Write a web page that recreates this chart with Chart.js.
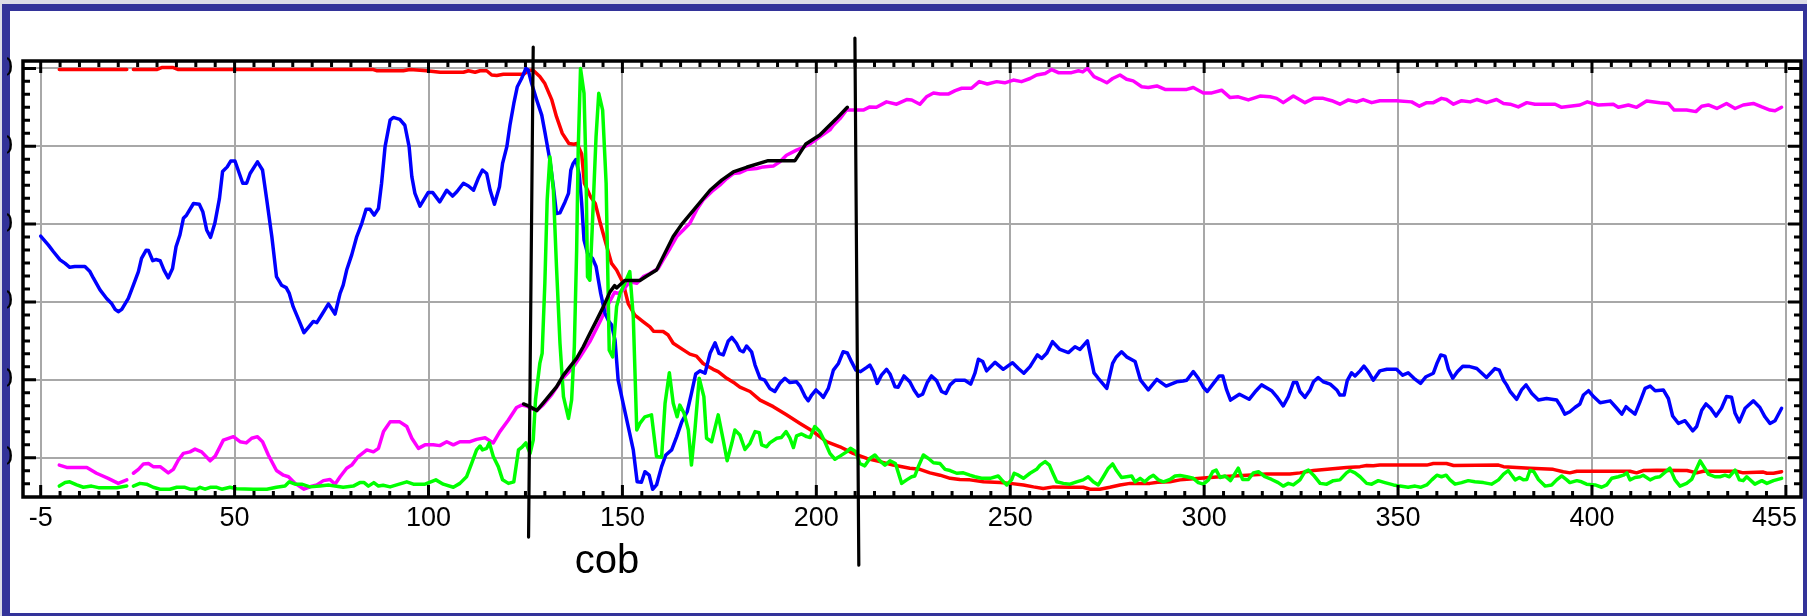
<!DOCTYPE html>
<html>
<head>
<meta charset="utf-8">
<script src="https://cdn.jsdelivr.net/npm/chart.js@4.4.1/dist/chart.umd.min.js"></script>
<style>
html,body{margin:0;padding:0;background:#fff;overflow:hidden;}
#wrap{position:relative;width:1807px;height:616px;background:#fff;}
#stripTop{position:absolute;left:0;top:0;width:1807px;height:4px;background:#dcdce6;}
#stripLeft{position:absolute;left:0;top:0;width:2px;height:616px;background:#dcdce6;}
#border{position:absolute;left:2px;top:4px;width:1805px;height:612px;box-sizing:border-box;border-style:solid;border-color:#333399;border-width:7px 4px 3px 8px;}
#c{position:absolute;left:0;top:0;}
</style>
</head>
<body>
<div id="wrap">
<div id="stripTop"></div><div id="stripLeft"></div><div id="border"></div>
<canvas id="c" width="1807" height="616"></canvas>
</div>
<script>
// ---- tick labels ----
const xTickValues = [0, 50, 100, 150, 200, 250, 300, 350, 400, 450];
const xTickLabels = ['-5', '50', '100', '150', '200', '250', '300', '350', '400', '455'];
const yTickValues = [0, 20, 40, 60, 80, 100];
const yTickLabels = ['0', '20', '40', '60', '80', '100'];
const xMinorStep = 5;
const yMinorStep = 20 / 6;
const xTitle = 'cob';
const xTitleAt = 146;

// ---- marker lines (x, y pairs in data units) ----
const cobLine1 = [[127.0, 105.5], [125.8, -20.4]];
const cobLine2 = [[209.95, 107.8], [210.96, -27.6]];

// ---- series [x, y]; null y = gap ----
const redSeries = [[4.8,99.7],[22.2,99.7],[23.05,null],[23.9,99.7],[29.9,99.7],[31.2,100.2],[34.2,100.2],[35.5,99.7],[85.8,99.7],[86.6,99.4],[93.5,99.4],[95.2,99.7],[97,99.6],[99.5,99.4],[103,99],[109,99],[110.3,99.4],[112,99],[113.3,99.4],[115,99.4],[116.3,98.3],[117.6,98.2],[119.3,98.5],[124.5,98.5],[125.7,99.4],[126.9,99.6],[128.7,97.9],[130,96.1],[131.8,91.9],[133,87.6],[134.5,83.3],[136.2,80.7],[137.5,80.5],[138.3,80.7],[139.5,78],[140.2,70.5],[141.8,67],[143,65.3],[144.3,60.2],[145.5,55.9],[147.2,49.9],[148.5,48.2],[150.2,44.8],[151.5,39.6],[153.2,36.6],[155.4,34.9],[157.1,33.6],[158,32.5],[160.5,32.4],[161.8,31.5],[163.1,29.4],[165.7,27.7],[167.4,26.6],[169.1,26.1],[170.8,24.2],[173.4,22.7],[174.7,22.1],[176.9,20.4],[179,19.1],[180.3,18.1],[182.9,17],[185.5,14.8],[188.9,13.1],[192.3,11],[195.8,8.8],[199.2,6.7],[202.6,4.1],[206.1,2.8],[209.5,1.1],[213,-0.2],[216.4,-1],[219.8,-1.9],[224.1,-2.7],[226.7,-3],[229.3,-3.9],[231.9,-4.5],[234.5,-5.3],[237,-5.6],[239.6,-5.7],[243.1,-6.2],[247.4,-6.4],[250,-6.6],[253.4,-7],[256,-7.5],[258.5,-7.9],[261.1,-7.5],[265.4,-7.6],[268.8,-7.6],[270.6,-8.1],[273.1,-8.1],[275.7,-7.6],[278.3,-7],[280.9,-6.6],[286,-6.6],[288,-6.3],[291.2,-6.2],[293.8,-5.7],[299,-5.3],[304.1,-4.9],[311,-4.5],[316.1,-4.2],[322.1,-4.2],[324.7,-3.9],[328.2,-3.3],[336.7,-2.5],[340.2,-2.3],[341.9,-2],[343.6,-2.1],[345.3,-1.9],[357.4,-1.9],[359.1,-1.5],[362.5,-1.5],[364.3,-2],[375.9,-1.9],[377.2,-2.3],[384,-2.7],[390,-3],[392.6,-3.6],[394.3,-3.9],[396.1,-3.5],[409.8,-3.5],[411.5,-3.9],[413.2,-3.3],[416.7,-3.2],[424.5,-3.3],[427,-3.9],[428.7,-3.5],[437.3,-3.5],[439,-3.9],[444.2,-3.7],[445.1,-4],[446.8,-4],[448.9,-3.6]];

const blueSeries = [[0,56.9],[2,54.6],[3.3,52.9],[5,50.8],[6.3,49.9],[7.5,48.9],[8.8,49.1],[11.4,49.1],[12.7,47.8],[13.6,46.1],[15.3,43.1],[17,40.9],[18.3,39.6],[19.2,38.1],[20,37.5],[20.9,38.1],[22.6,40.9],[23.9,44.3],[25.2,47.8],[26,51.2],[27.2,53.3],[27.8,53.2],[28.9,50.6],[29.7,50.9],[30.8,50.6],[31.8,48.2],[32.9,46.2],[34,48.6],[34.9,54.2],[35.9,57.2],[36.8,61.5],[37.6,62.3],[39.4,65.3],[40.9,65.1],[41.8,63.2],[42.8,58.5],[43.8,56.6],[44.9,60.2],[46.1,66.6],[46.9,73.5],[48.1,74.7],[49,76.2],[50.1,76.2],[52.1,70.5],[53.1,70.5],[54,73],[55.9,76],[57.2,73.9],[58.3,66.2],[59.6,56.8],[60.8,46.5],[62.1,44.3],[63.3,43.7],[64.1,42.2],[65.1,38.8],[66.7,35],[67.9,32.1],[69.3,33.8],[70.3,35],[71.2,34.7],[72.4,36.6],[74.2,39.5],[75.9,36.9],[77.2,42.2],[78,44.3],[78.9,48.2],[80.2,52.1],[81.5,56.8],[82.8,60.2],[83.9,63.8],[84.9,63.8],[86,62.3],[87.1,64],[87.9,70.5],[88.8,79.9],[90.1,86.7],[90.9,87.4],[92.6,86.9],[93.9,85.4],[95,79.9],[95.7,72.2],[96.5,67.9],[97.8,64.6],[99.9,68.1],[101.1,68.1],[102.9,65.7],[104.7,68.7],[106.2,67.2],[107.3,68.3],[109,70.5],[110.3,69.8],[111.6,68.7],[112.8,71.7],[113.9,73.9],[115,73],[115.9,68.7],[117,65.1],[118.3,69.6],[119.1,75.6],[120.2,79.9],[121,85.4],[122,91],[122.9,95.3],[124,97.4],[125.1,100],[125.7,99.6],[126.6,96.1],[127.9,91.9],[129.2,88],[130,83.7],[131.3,76.4],[132.2,69.6],[133,62.7],[133.9,62.9],[135.2,65.7],[136.1,67.9],[136.7,73.9],[137.3,75.6],[138,76.6],[138.9,72.6],[139.5,65.3],[140.1,55.9],[141,52.5],[142.3,51.2],[143.2,49.1],[144.4,42.2],[145.5,37.1],[146.5,35],[147.2,34.1],[148.1,30.2],[148.9,19.9],[150.2,13.9],[151.5,8],[152.8,2],[153.8,-6.2],[154.9,-6.3],[155.8,-3.6],[156.9,-4.5],[157.8,-8.1],[158.8,-7],[160.1,-2.3],[161.2,0.7],[162.7,2],[164,5.4],[165.3,9.2],[166.7,11.8],[167.8,16.5],[168.9,21.5],[170,22.3],[171.3,21.7],[172.6,26.8],[173.9,29.5],[174.9,26.8],[176,26.4],[177.3,30],[178.2,30.9],[179.4,29.4],[180.3,27.6],[181.2,27.2],[182,28.7],[183.3,27.2],[184.2,23.8],[185.5,20.4],[186.7,19.9],[188,17.8],[189.3,17],[190.6,19.1],[191.9,20.4],[193.2,19.3],[194.9,19.5],[195.8,18.4],[197.1,15.7],[197.9,14.6],[198.8,16.1],[199.9,17.4],[200.9,16.5],[201.8,15.5],[203.1,17.8],[204.4,22.5],[205.7,24.2],[206.9,27.2],[208,26.9],[209.1,24.6],[210.2,22.5],[211.4,22.1],[213,23.2],[213.8,23.8],[214.7,22.1],[215.7,19.1],[216.8,21.2],[218.1,22.7],[219,21.5],[220.3,18.2],[221.1,18.1],[222.6,21],[224.1,19.5],[225.2,17.4],[226.3,15.8],[227.4,16.3],[228.6,19.3],[229.7,21],[231,19.8],[232.3,17],[233.4,16.5],[234.5,18.7],[235.8,19.9],[238.3,19.9],[239.8,18.9],[240.9,21.7],[241.8,25.3],[242.9,24.7],[243.9,22.3],[246.1,24.5],[248.2,22.7],[250.6,24.4],[252.1,22.9],[253.5,21.7],[255.1,23.4],[257,26.4],[258.1,25.5],[259.4,26.8],[260.9,29.8],[262.8,27.8],[265,27],[266.7,28.5],[268,27.8],[269.9,30],[271.6,21.8],[272.7,20.4],[274.9,17.8],[276.4,24.2],[277.3,25.8],[278.7,27.2],[280,25.9],[282.2,24.7],[283.6,19.9],[285.6,17.4],[287.8,20.1],[290.2,18.4],[292.9,19.5],[294.6,19.7],[295.5,19.9],[297.2,22.1],[298.5,20.4],[299.8,18.1],[300.8,17],[302.4,19.1],[303.9,21],[304.8,21],[305.8,17.4],[306.8,14.8],[309.1,16.3],[311.6,15],[313.4,17.2],[314.8,18.7],[317.4,17.2],[318.7,15.7],[320.4,13.3],[321.7,15.7],[323,19.3],[323.9,19.3],[324.7,17],[326,15.5],[327.3,17.4],[328.2,19.5],[329.4,20.6],[330.7,19.5],[332.5,18.9],[334.2,17.4],[335,16.1],[336.1,16.1],[336.9,19.8],[338,21.8],[338.9,21],[340.2,22.3],[341.2,23.5],[342.3,22.1],[343.6,19.9],[345.3,22.3],[347.1,22.7],[349.6,22.7],[351.2,21.2],[352.6,21.8],[354.1,20.4],[355.8,19.1],[357.2,20.8],[359.1,21.7],[360.1,24.4],[361,26.4],[362.1,26.1],[363,22.7],[364.1,20.4],[365.3,22.1],[366.7,23.5],[368.5,23.4],[370.3,22.9],[372.8,20.6],[375,22.9],[376.1,22.5],[377.2,19.9],[378,18.7],[378.9,17],[380.6,15],[381.9,17.5],[383,18.7],[384.5,16.5],[386.2,14.8],[388.3,15.2],[390.9,14.8],[391.9,13.3],[393,11.2],[394.3,11.8],[395.6,12.9],[396.9,13.8],[397.8,16.1],[399.1,17.2],[400.4,15.7],[402.1,14.1],[404.7,14.6],[406.4,12.7],[407.7,11.2],[408.8,13.1],[409.8,12.2],[411.1,11.2],[412.4,14.4],[413.7,17.8],[415,18.4],[416.3,17.2],[418.4,17.4],[419.7,15.2],[420.8,10.7],[422.3,8.8],[424,9.5],[426,6.9],[427,8],[428.3,12.2],[429.4,13.8],[430.6,12.7],[432,10.7],[433.4,12.7],[434.7,15.7],[436,15.5],[436.9,11.4],[438,9.2],[439.5,12.7],[441.6,14.6],[443.3,12.9],[444.6,10.5],[445.9,8.8],[447.2,9.5],[448.9,12.7]];

const magentaSeries = [[4.8,-1.9],[6.7,-2.5],[11.9,-2.5],[14.4,-4],[17.4,-5.3],[20,-6.6],[22.2,-5.7],[23.05,null],[23.9,-4],[25.2,-3],[26.5,-1.6],[27.8,-1.5],[29,-2.3],[30.8,-2.3],[32.9,-3.9],[34.2,-3],[35.5,-0.6],[36.8,1.1],[38.5,1.5],[39.8,2.2],[41.5,1.5],[43.7,-0.8],[45,0.4],[47.1,4.5],[49.7,5.4],[51.4,4.1],[53,3.8],[54.4,5],[55.9,5.4],[57.2,4.1],[58.7,0.7],[60.8,-3.3],[62.6,-4.5],[63.9,-4.9],[65.6,-6.6],[67.9,-8.1],[69.9,-7.3],[71.2,-7],[72.9,-5.9],[74.6,-5.6],[75.9,-6.8],[77.2,-4.9],[78.9,-2.7],[80.2,-1.9],[81.9,0.3],[84.1,2],[85.8,1.5],[87.1,2.4],[88.4,6.7],[90.1,9.2],[92.6,9.2],[94.4,8],[95.7,5],[97.4,2.4],[99.1,3.3],[101.2,3.3],[102.9,3.1],[104.7,4.1],[106.4,3.3],[108.1,4.1],[110.7,4.1],[112.4,4.7],[114.6,5.1],[116.7,3.8],[118.4,6.7],[120.6,9.7],[122.7,12.9],[124,13.5],[125.3,13.3],[126.6,12.6],[127.9,12.1],[129.6,13.6],[131.8,16.2],[134.3,20],[137.3,23.3],[139.1,25.9],[141.6,29.8],[144.2,34.9],[146.8,40.3],[148,42.5],[148.9,42.2],[150.2,43.1],[151.9,45.2],[153.7,44.8],[155.4,46.5],[157.1,47.3],[159.2,48.6],[160.5,50.8],[162.3,53.8],[164,56.8],[165.7,58.5],[167.4,60.2],[169.1,63.6],[170.8,66.2],[173.4,68.7],[175.1,70],[176.9,71.7],[178.6,73],[180.3,73.2],[182,74],[184.6,74.3],[186.3,74.7],[188.9,74.9],[190.6,76],[192.3,77.7],[194.9,79],[196.6,79.7],[198.4,80.6],[200.9,82.4],[203.5,84.2],[204.4,85.4],[206.1,87.1],[207.8,89.3],[210.4,89.3],[212.1,89.3],[213.8,90.1],[215.5,90],[218.1,91.4],[220.7,90.8],[223.3,92],[224.6,91.9],[226.7,90.8],[228.4,92.7],[230.2,93.7],[231.9,93.4],[234,93.4],[235.8,94.3],[237.5,94.9],[240,94.9],[242,96.6],[244.1,96],[246.5,96.6],[248.6,96.3],[250.8,97],[252.9,96.6],[255.1,97.4],[256.8,98.3],[259,98.7],[260.7,99.7],[262.4,98.9],[265.8,98.9],[267.6,99.4],[268.7,99.1],[269.9,100],[271.6,97.9],[273.1,97.2],[274.9,96.3],[276.4,97.4],[278.3,98.3],[280,97.2],[281.7,96.8],[283.9,95.3],[285.6,95.1],[287.8,95.5],[289.9,94.6],[292.1,94.6],[295.5,94.6],[297.2,95.1],[299.8,93.7],[302,93.7],[304.5,94.4],[306.7,92.5],[308.8,92.7],[311.4,91.9],[314.4,92.9],[317,92.7],[318.7,92.3],[320.4,91.2],[323,92.9],[326,91.2],[328.2,92.3],[330.7,92.3],[332.9,91.7],[335,90.8],[337.2,91.9],[339.3,91.4],[341,92],[343.2,91.2],[345.3,91.7],[349.6,91.7],[353.5,91.4],[355.5,90.3],[357.4,91.2],[359.1,91.2],[361.2,92.3],[362.5,92],[364.3,90.8],[366.4,91.7],[368.6,91.4],[370.3,92],[372.8,91.2],[375.4,92],[377.2,91],[378.9,90.8],[381,90.1],[383.2,91.2],[385.3,90.8],[390.5,90.8],[392.2,90],[394.3,90.3],[396.9,90.6],[398.8,91.4],[401.6,90.6],[405.5,90.8],[406.8,90],[409.4,90.6],[411.5,90],[414.1,91.6],[417.5,91.2],[419.7,91],[421.2,89.3],[424.4,89.3],[426.8,88.9],[428.3,90.3],[430,90.6],[432.2,89.7],[434.7,91],[436.9,89.7],[439,90.6],[441.6,91],[443.8,90.1],[445.9,89.3],[447.2,89.1],[448.9,90]];

const greenSeries = [[4.8,-7.3],[6.3,-6.4],[7.5,-6.2],[9.3,-7],[11,-7.6],[13.1,-7.3],[14.9,-7.7],[19.6,-7.7],[22.2,-7.3],[23.05,null],[23.9,-7.3],[25.6,-6.6],[27.3,-6.8],[29,-7.6],[30.8,-8.1],[33.3,-8.1],[35.1,-7.6],[37.2,-7.6],[38.5,-8.1],[40.2,-8.1],[41.1,-7.6],[42.4,-8.1],[43.7,-7.6],[45.4,-7.6],[46.7,-8.1],[48.8,-7.6],[50.5,-8],[54.8,-8.1],[58.3,-8.1],[60.8,-7.6],[63,-7.3],[64.1,-6.2],[65.6,-6.8],[67.3,-6.8],[69.4,-7.5],[72,-7.3],[74.2,-7],[75.9,-7.3],[78,-7.6],[80.6,-7.3],[82.3,-6.4],[83.4,-6.4],[84.5,-7.3],[85.9,-6.4],[87.1,-7.3],[88.3,-7.1],[90.1,-7.5],[91.8,-7],[94.4,-6.2],[96.1,-6.8],[99.1,-6.8],[101.9,-5.7],[103.8,-6.8],[106.4,-7.6],[108.1,-6.6],[109.8,-4.9],[111.1,-1.5],[112.4,2],[113.3,3],[113.9,2],[115,2.4],[115.7,3.8],[116.7,0.3],[118,-2.3],[119.1,-5.7],[120.6,-6.6],[122,-6.2],[123.2,2],[124.2,2.8],[125.1,3.8],[126.2,1.1],[127,4.5],[127.6,15],[128.7,24.2],[129.3,26.8],[130,44.8],[130.6,66.2],[131.3,77.3],[132.2,68.7],[133,49.1],[133.9,29.4],[134.8,15.7],[136.1,10.1],[136.9,14.8],[137.6,28.5],[138.2,53.3],[138.6,79],[139.2,100],[140.1,93.6],[140.6,74.7],[141,46.5],[141.6,45.6],[142.2,58.5],[143.2,82.4],[143.9,93.6],[144.9,89.3],[145.8,70.5],[146.6,27.6],[147.5,25.9],[148.5,38.8],[149.4,42.2],[150.6,44.8],[151.9,47.8],[152.8,36.2],[153.7,7.1],[154.5,8.8],[155.8,10.5],[157.5,11],[158.8,0.3],[160.1,0.1],[161,14],[162.1,21.8],[163.1,14],[164.1,10.5],[164.8,13.5],[165.9,11.4],[167,7.1],[167.8,-1.9],[168.7,7.1],[169.8,20.4],[171,15.7],[171.7,5],[173,4.1],[174.7,11],[176,4.5],[177,-0.8],[178.2,3.7],[179,7.1],[180.3,5.8],[181.6,2.1],[182.9,3.7],[184.2,6.7],[185.3,6.4],[185.9,3.3],[187.2,2.8],[188,3.8],[189.8,5],[191,5.2],[192.2,6.7],[193.2,5],[194.1,2.6],[194.9,5.6],[196.2,6.1],[197.5,5.4],[198.4,5.2],[199.6,8],[200.9,6.7],[202.2,4.1],[203.5,1.1],[204.8,-0.4],[206.1,0.4],[207.8,1.5],[208.8,2.4],[210.2,1.5],[211.2,-1.5],[212.5,-2.1],[213.8,-0.2],[215.1,0.7],[216.4,-0.8],[217.7,-1.9],[219,-0.8],[220.4,-1.5],[222,-6.6],[223.3,-5.7],[224.6,-4.9],[225.4,-4.7],[226.3,-2.3],[227.6,0.7],[228.9,-0.2],[230.2,-1.3],[231.9,-1.5],[233.2,-3],[234.5,-3.3],[236.2,-4],[237.9,-3.9],[239.6,-4.5],[240.9,-4.9],[242.6,-5.3],[244.8,-5.3],[246.9,-4.7],[247.8,-5.7],[249.1,-7],[250.4,-5.6],[251,-4],[252.1,-4.5],[253.4,-5.3],[255.1,-4],[256.8,-3],[257.7,-1.9],[259,-1],[260.1,-1.9],[261,-4],[262,-6.2],[263.7,-6.6],[265.4,-6.8],[267.1,-6.2],[268.8,-5.7],[270.1,-4.9],[271.4,-6.2],[272.7,-7],[274,-4.9],[275.3,-2.7],[276.4,-1.6],[277.4,-3.3],[278.7,-5.1],[280,-4.9],[281.3,-4.7],[282.2,-6.2],[283.5,-5.3],[284.7,-6.2],[285.9,-5.1],[286.9,-4.5],[288.2,-5.7],[289.5,-6.2],[291.2,-5.6],[292.5,-4.7],[293.8,-4.6],[295.5,-4.9],[297.2,-5.3],[298.5,-6.4],[299.8,-6.8],[301.1,-5.7],[302.2,-3.6],[303.1,-3.2],[304.1,-5.1],[305.4,-4.7],[306.8,-5.9],[308,-4],[308.8,-2.7],[309.9,-5.6],[311.4,-5.6],[312.7,-3.9],[314,-3.6],[315.7,-4.9],[317.4,-5.6],[319.1,-6.4],[320.4,-7.3],[321.7,-6.6],[323,-7],[324.7,-5.7],[326,-3.6],[326.9,-3.2],[328.2,-4.5],[329.9,-6.6],[331.6,-6.8],[333.3,-5.9],[335,-5.7],[336.7,-3.9],[337.6,-3.3],[338.9,-3.9],[340.2,-4.9],[341.9,-6.6],[343.2,-6.8],[344.9,-5.9],[346.6,-6.4],[348.8,-7],[350.5,-7.3],[352.6,-7.6],[354.4,-7.3],[355.8,-7.6],[357.4,-7],[358.7,-5.7],[360,-4.5],[361.2,-4.9],[362.4,-4.5],[363.4,-5.7],[364.7,-6.8],[366.4,-6.4],[368.1,-5.9],[369.8,-6.2],[372,-6.4],[374.1,-6.8],[375.9,-5.7],[377.2,-4.2],[378.4,-3.3],[379.3,-4.5],[380.2,-5.7],[381.3,-5.1],[382.3,-5.7],[383.2,-5.6],[384,-3.3],[385,-3.6],[386.2,-5.6],[387.9,-7.3],[389.6,-7],[390.9,-5.7],[392.2,-4.7],[393.5,-5.7],[394.3,-6.4],[396.1,-5.9],[397.3,-6.2],[398.6,-6.8],[400.8,-7],[402.5,-7.6],[403.8,-7],[405.1,-5.3],[406.8,-4.9],[408.1,-4.5],[409,-3.9],[409.8,-5.7],[411.1,-5.1],[412.4,-4.9],[413.2,-4.5],[415,-5.7],[416.3,-5.1],[417.5,-4.9],[420.1,-2.7],[421.4,-5.7],[422.7,-7.3],[424.4,-6.6],[425.7,-5.6],[427.9,-0.8],[430,-4.2],[431.7,-4.9],[433,-4.9],[434.3,-4.5],[435.4,-4.9],[436.9,-3.2],[438,-5.7],[439,-5.9],[439.9,-4.9],[442,-6.8],[443.8,-5.9],[445.1,-6.6],[446.8,-5.9],[448.9,-5.3]];

const blackSeries = [[124.5,13.8],[126.2,13.1],[127.9,12.1],[129.6,14.1],[133,18.2],[134.8,21.2],[136.5,23.4],[138.2,25.5],[139.9,28.5],[141.6,31.9],[143.4,35.4],[145.1,38.8],[146.8,42.6],[148,44.2],[148.5,43.6],[150.6,45.5],[152.4,45.5],[154.5,45.5],[156.2,46.6],[158.8,48.2],[160.5,51.6],[163.1,56.8],[165.5,60.2],[169.1,64.5],[172.6,68.7],[175.6,71.3],[178.6,73.4],[182,74.6],[187.6,76.3],[194.5,76.3],[197.3,80.6],[200.9,82.9],[205.2,87.1],[208,90]];

const FONT = '"Liberation Sans", Arial, Helvetica, sans-serif';

function series(arr, color, extra) {
  return Object.assign({
    data: arr.map(p => ({ x: p[0], y: p[1] })),
    borderColor: color,
    backgroundColor: color,
    borderWidth: 3.5,
    pointRadius: 0,
    pointHoverRadius: 0,
    tension: 0,
    fill: false,
    spanGaps: false,
    borderJoinStyle: 'round',
    borderCapStyle: 'round'
  }, extra || {});
}

const framePlugin = {
  id: 'frameAndLabels',
  beforeDraw(chart) {
    const s = chart.scales.x;
    const items = s.getLabelItems();
    if (items && items.length) {
      const last = items[items.length - 1];
      last.options.textAlign = 'right';
      last.options.translation = [s.right - 4, last.options.translation[1]];
    }
  },
  afterDraw(chart) {
    const { ctx, chartArea: a } = chart;
    const xs = chart.scales.x, ys = chart.scales.y;
    ctx.save();
    ctx.strokeStyle = '#000';
    ctx.lineCap = 'butt';
    ctx.lineWidth = 3;
    ctx.beginPath();
    const x0 = xTickValues[0], x1 = xTickValues[xTickValues.length - 1];
    for (let k = 0; x0 + k * xMinorStep <= x1 + 1e-6; k++) {
      const v = x0 + k * xMinorStep;
      const major = xTickValues.some(t => Math.abs(t - v) < 1e-6);
      const px = xs.getPixelForValue(v);
      const len = major ? 12 : 6;
      ctx.moveTo(px, a.top); ctx.lineTo(px, a.top + len);
      ctx.moveTo(px, a.bottom); ctx.lineTo(px, a.bottom - len);
    }
    const kStart = Math.ceil((ys.min + 0.5) / yMinorStep);
    const kEnd = Math.floor(ys.max / yMinorStep);
    for (let k = kStart; k <= kEnd; k++) {
      const v = k * yMinorStep;
      const major = yTickValues.some(t => Math.abs(t - v) < 1e-6);
      const py = ys.getPixelForValue(v);
      const len = major ? 13 : 7;
      ctx.moveTo(a.left, py); ctx.lineTo(a.left + len, py);
      ctx.moveTo(a.right, py); ctx.lineTo(a.right - len, py);
    }
    ctx.stroke();
    ctx.lineWidth = 3.5;
    ctx.strokeRect(a.left, a.top, a.right - a.left, a.bottom - a.top);
    // axis title
    ctx.fillStyle = '#000';
    ctx.font = '40px ' + FONT;
    ctx.textAlign = 'center';
    ctx.textBaseline = 'alphabetic';
    ctx.fillText(xTitle, xs.getPixelForValue(xTitleAt), a.bottom + 76);
    ctx.restore();
  }
};

new Chart(document.getElementById('c'), {
  type: 'line',
  data: {
    datasets: [
      series(cobLine1, '#000000', { clip: false, borderWidth: 3.2 }),
      series(cobLine2, '#000000', { clip: false, borderWidth: 3.2 }),
      series(blackSeries, '#000000'),
      series(greenSeries, '#00ff00'),
      series(blueSeries, '#0000ff'),
      series(magentaSeries, '#ff00ff'),
      series(redSeries, '#ff0000')
    ]
  },
  options: {
    responsive: false,
    devicePixelRatio: 1,
    animation: false,
    events: [],
    layout: { padding: { left: 7, top: 61, right: 6, bottom: 0 } },
    plugins: { legend: { display: false }, tooltip: { enabled: false } },
    scales: {
      x: {
        type: 'linear',
        position: 'bottom',
        min: -4.56,
        max: 453.9,
        afterBuildTicks: s => { s.ticks = xTickValues.map(v => ({ value: v })); },
        afterFit: s => { s.height = 119; s.paddingLeft = 0; s.paddingRight = 0; },
        grid: { color: '#a8a8a8', lineWidth: 2, drawTicks: false },
        border: { display: false },
        ticks: {
          autoSkip: false, maxRotation: 0, minRotation: 0, padding: 5,
          color: '#000', font: { family: FONT, size: 27 },
          callback: (v, i) => xTickLabels[xTickValues.indexOf(v)]
        }
      },
      y: {
        type: 'linear',
        position: 'left',
        min: -10.1,
        max: 101.9,
        afterBuildTicks: s => { s.ticks = yTickValues.map(v => ({ value: v })); },
        afterFit: s => { s.width = 16; s.paddingTop = 0; s.paddingBottom = 0; },
        grid: { color: '#a8a8a8', lineWidth: 2, drawTicks: false },
        border: { display: false },
        ticks: {
          autoSkip: false, padding: 10,
          color: '#000', font: { family: FONT, size: 27 },
          callback: (v, i) => yTickLabels[yTickValues.indexOf(v)]
        }
      }
    }
  },
  plugins: [framePlugin]
});
</script>
</body>
</html>
